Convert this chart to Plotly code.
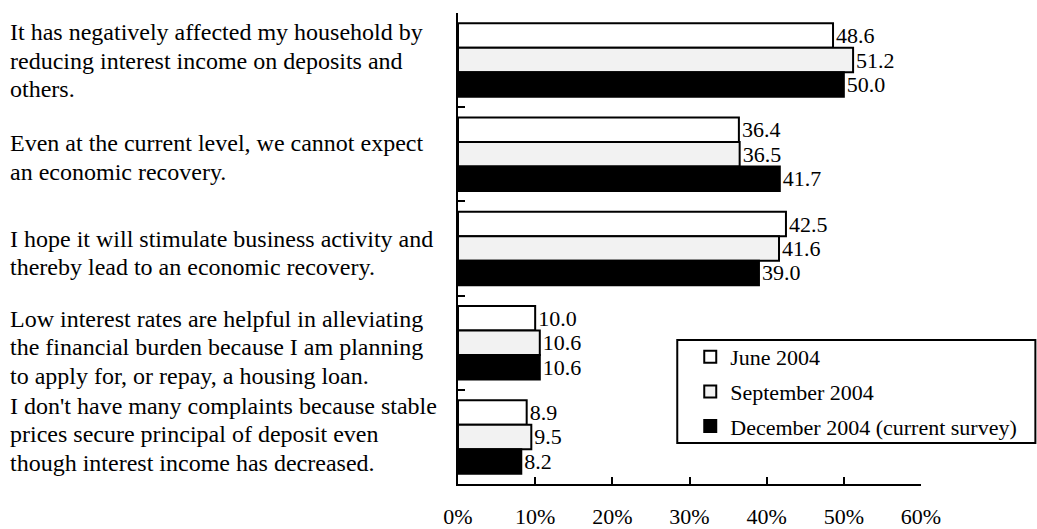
import plotly.graph_objects as go

category_lines = [
    ["It has negatively affected my household by",
     "reducing interest income on deposits and",
     "others."],
    ["Even at the current level, we cannot expect",
     "an economic recovery."],
    ["I hope it will stimulate business activity and",
     "thereby lead to an economic recovery."],
    ["Low interest rates are helpful in alleviating",
     "the financial burden because I am planning",
     "to apply for, or repay, a housing loan."],
    ["I don't have many complaints because stable",
     "prices secure principal of deposit even",
     "though interest income has decreased."],
]
cat_ids = ["c1", "c2", "c3", "c4", "c5"]
series_names = ["June 2004", "September 2004", "December 2004 (current survey)"]
june = [48.6, 36.4, 42.5, 10.0, 8.9]
sept = [51.2, 36.5, 41.6, 10.6, 9.5]
dec = [50.0, 41.7, 39.0, 10.6, 8.2]
tick_vals = [0, 10, 20, 30, 40, 50, 60]
tick_text = ["0%", "10%", "20%", "30%", "40%", "50%", "60%"]

FONT = "Liberation Serif, Times New Roman, serif"
fills = ["#ffffff", "#f2f2f2", "#000000"]

W, H = 1037, 529
PL, PR, PT, PB = 457.5, 921, 13, 484
pw, ph = PR - PL, PB - PT


def px(sx):
    return (sx - PL) / pw


def py(sy):
    return (PB - sy) / ph


fig = go.Figure()
for name, vals, col in zip(series_names, [june, sept, dec], fills):
    fig.add_trace(go.Bar(
        y=cat_ids, x=vals, orientation="h", name=name,
        marker=dict(color=col, line=dict(color="black", width=2)),
        text=[f"{v:.1f}" for v in vals], textposition="outside",
        textfont=dict(family=FONT, size=22, color="black"),
        constraintext="none",
        cliponaxis=False, legendgroup=name,
    ))

LINE_H = 28.7
label_offsets = [7.9, 11.0, 12.0, 12.0, 4.8]  # block baseline below category centre
for cid, lines, off in zip(cat_ids, category_lines, label_offsets):
    n = len(lines)
    for i, ln in enumerate(lines):
        base = off + (i - (n - 1) / 2) * LINE_H
        mid = base - 7.5
        fig.add_annotation(
            x=px(9), xref="paper", y=cid, yref="y", yshift=-mid,
            text=ln, showarrow=False, xanchor="left", yanchor="middle", align="left",
            borderpad=0, borderwidth=0,
            font=dict(family=FONT, size=24, color="black"),
        )

# legend box
fig.add_shape(type="rect", xref="paper", yref="paper",
              x0=px(677), x1=px(1035.5), y0=py(443), y1=py(340),
              line=dict(color="black", width=2), fillcolor="white", layer="below")

fig.update_layout(
    width=W, height=H,
    margin=dict(l=PL, r=W - PR, t=PT, b=H - PB, pad=0, autoexpand=False),
    paper_bgcolor="white", plot_bgcolor="white",
    barmode="group", bargap=0.22, bargroupgap=0,
    font=dict(family=FONT, size=22, color="black"),
    showlegend=True,
    legend=dict(
        x=px(690), y=py(336), xanchor="left", yanchor="top",
        bgcolor="rgba(0,0,0,0)", borderwidth=0,
        font=dict(family=FONT, size=22, color="black"),
        traceorder="grouped", tracegroupgap=3,
        itemwidth=30,
    ),
    xaxis=dict(
        range=[0, 60], tickvals=tick_vals, ticktext=tick_text,
        ticks="inside", ticklen=7, tickwidth=2, tickcolor="black",
        showline=True, linecolor="black", linewidth=2,
        showgrid=False, zeroline=False, ticklabelstandoff=12,
        tickfont=dict(family=FONT, size=22, color="black"),
        automargin=False, fixedrange=True,
    ),
    yaxis=dict(
        type="category", autorange="reversed", tickson="boundaries",
        ticks="inside", ticklen=7, tickwidth=2, tickcolor="black",
        showline=True, linecolor="black", linewidth=2,
        showgrid=False, showticklabels=False, zeroline=False,
        automargin=False, fixedrange=True,
    ),
)
fig.write_html("out.html", config={"displayModeBar": False},
               post_script="document.body.style.margin='0';document.body.style.overflow='hidden';")
